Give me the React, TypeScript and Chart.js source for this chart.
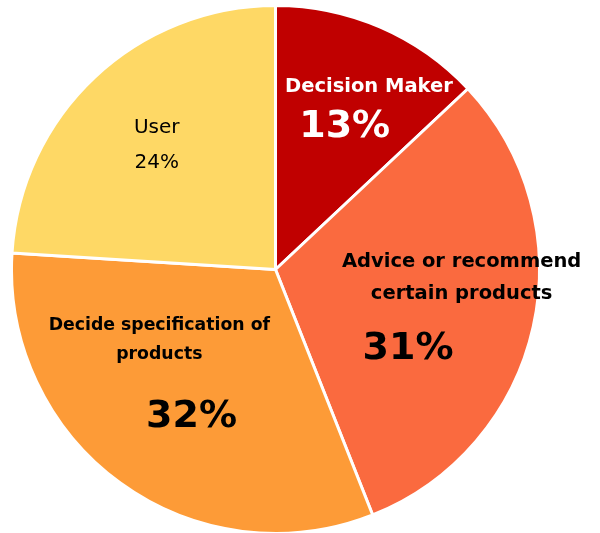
import React, { useEffect, useRef } from "react";
import { Chart, registerables } from "chart.js";

Chart.register(...registerables);

const categories = ["Decision Maker", "Advice or recommend certain products", "Decide specification of products", "User"];
const titleLines = [["Decision Maker"], ["Advice or recommend", "certain products"], ["Decide specification of", "products"], ["User"]];
const values = [13, 31, 32, 24];
const percentLabels = ["13%", "31%", "32%", "24%"];
const colors = ["#C00000", "#FA6A3F", "#FD9B37", "#FED865"];

// label layout (fractions of radius, relative to pie center)
const titlePos = [[0.354, -0.69], [0.705, -0.027], [-0.44, 0.213], [-0.45, -0.535]];
const pctPos = [[0.262, -0.54], [0.502, 0.3], [-0.318, 0.56], [-0.45, -0.405]];
const lineGaps = [0.12, 0.12, 0.11, 0.12];
const titleFonts = ["bold 19.5px", "bold 19.5px", "bold 17.3px", "20px"];
const pctFonts = ["bold 38px", "bold 38px", "bold 38px", "20px"];
const FAMILY = " 'DejaVu Sans', Verdana, sans-serif";

const labelPlugin = {
  id: "sliceLabels",
  afterDatasetsDraw(chart: any) {
    const ctx = chart.ctx;
    const meta = chart.getDatasetMeta(0);
    const arc = meta.data[0];
    const cx = arc.x, cy = arc.y, r = arc.outerRadius;
    ctx.save();
    ctx.textAlign = "center";
    ctx.textBaseline = "middle";
    for (let i = 0; i < values.length; i++) {
      ctx.fillStyle = i === 0 ? "#FFFFFF" : "#000000";
      ctx.font = titleFonts[i] + FAMILY;
      titleLines[i].forEach((ln, j) => {
        ctx.fillText(ln, cx + titlePos[i][0] * r, cy + (titlePos[i][1] + j * lineGaps[i]) * r);
      });
      ctx.font = pctFonts[i] + FAMILY;
      ctx.fillText(percentLabels[i], cx + pctPos[i][0] * r, cy + pctPos[i][1] * r);
    }
    ctx.restore();
  },
};

export default function App() {
  const ref = useRef<HTMLCanvasElement>(null);
  useEffect(() => {
    if (!ref.current) return;
    const chart = new Chart(ref.current, {
      type: "pie",
      data: {
        labels: categories,
        datasets: [
          {
            data: values,
            backgroundColor: colors,
            borderColor: "#FFFFFF",
            borderWidth: 3,
          },
        ],
      },
      options: {
        animation: false,
        responsive: false,
        layout: { padding: { left: 10, right: 59, top: 4, bottom: 5 } },
        plugins: { legend: { display: false }, tooltip: { enabled: false } },
      },
      plugins: [labelPlugin],
    });
    return () => chart.destroy();
  }, []);
  return (
    <div style={{ position: "absolute", left: 0, top: 0, width: 600, height: 533, overflow: "hidden", background: "#fff" }}>
      <canvas ref={ref} width={600} height={540} style={{ width: 600, height: 540, display: "block" }} />
    </div>
  );
}
